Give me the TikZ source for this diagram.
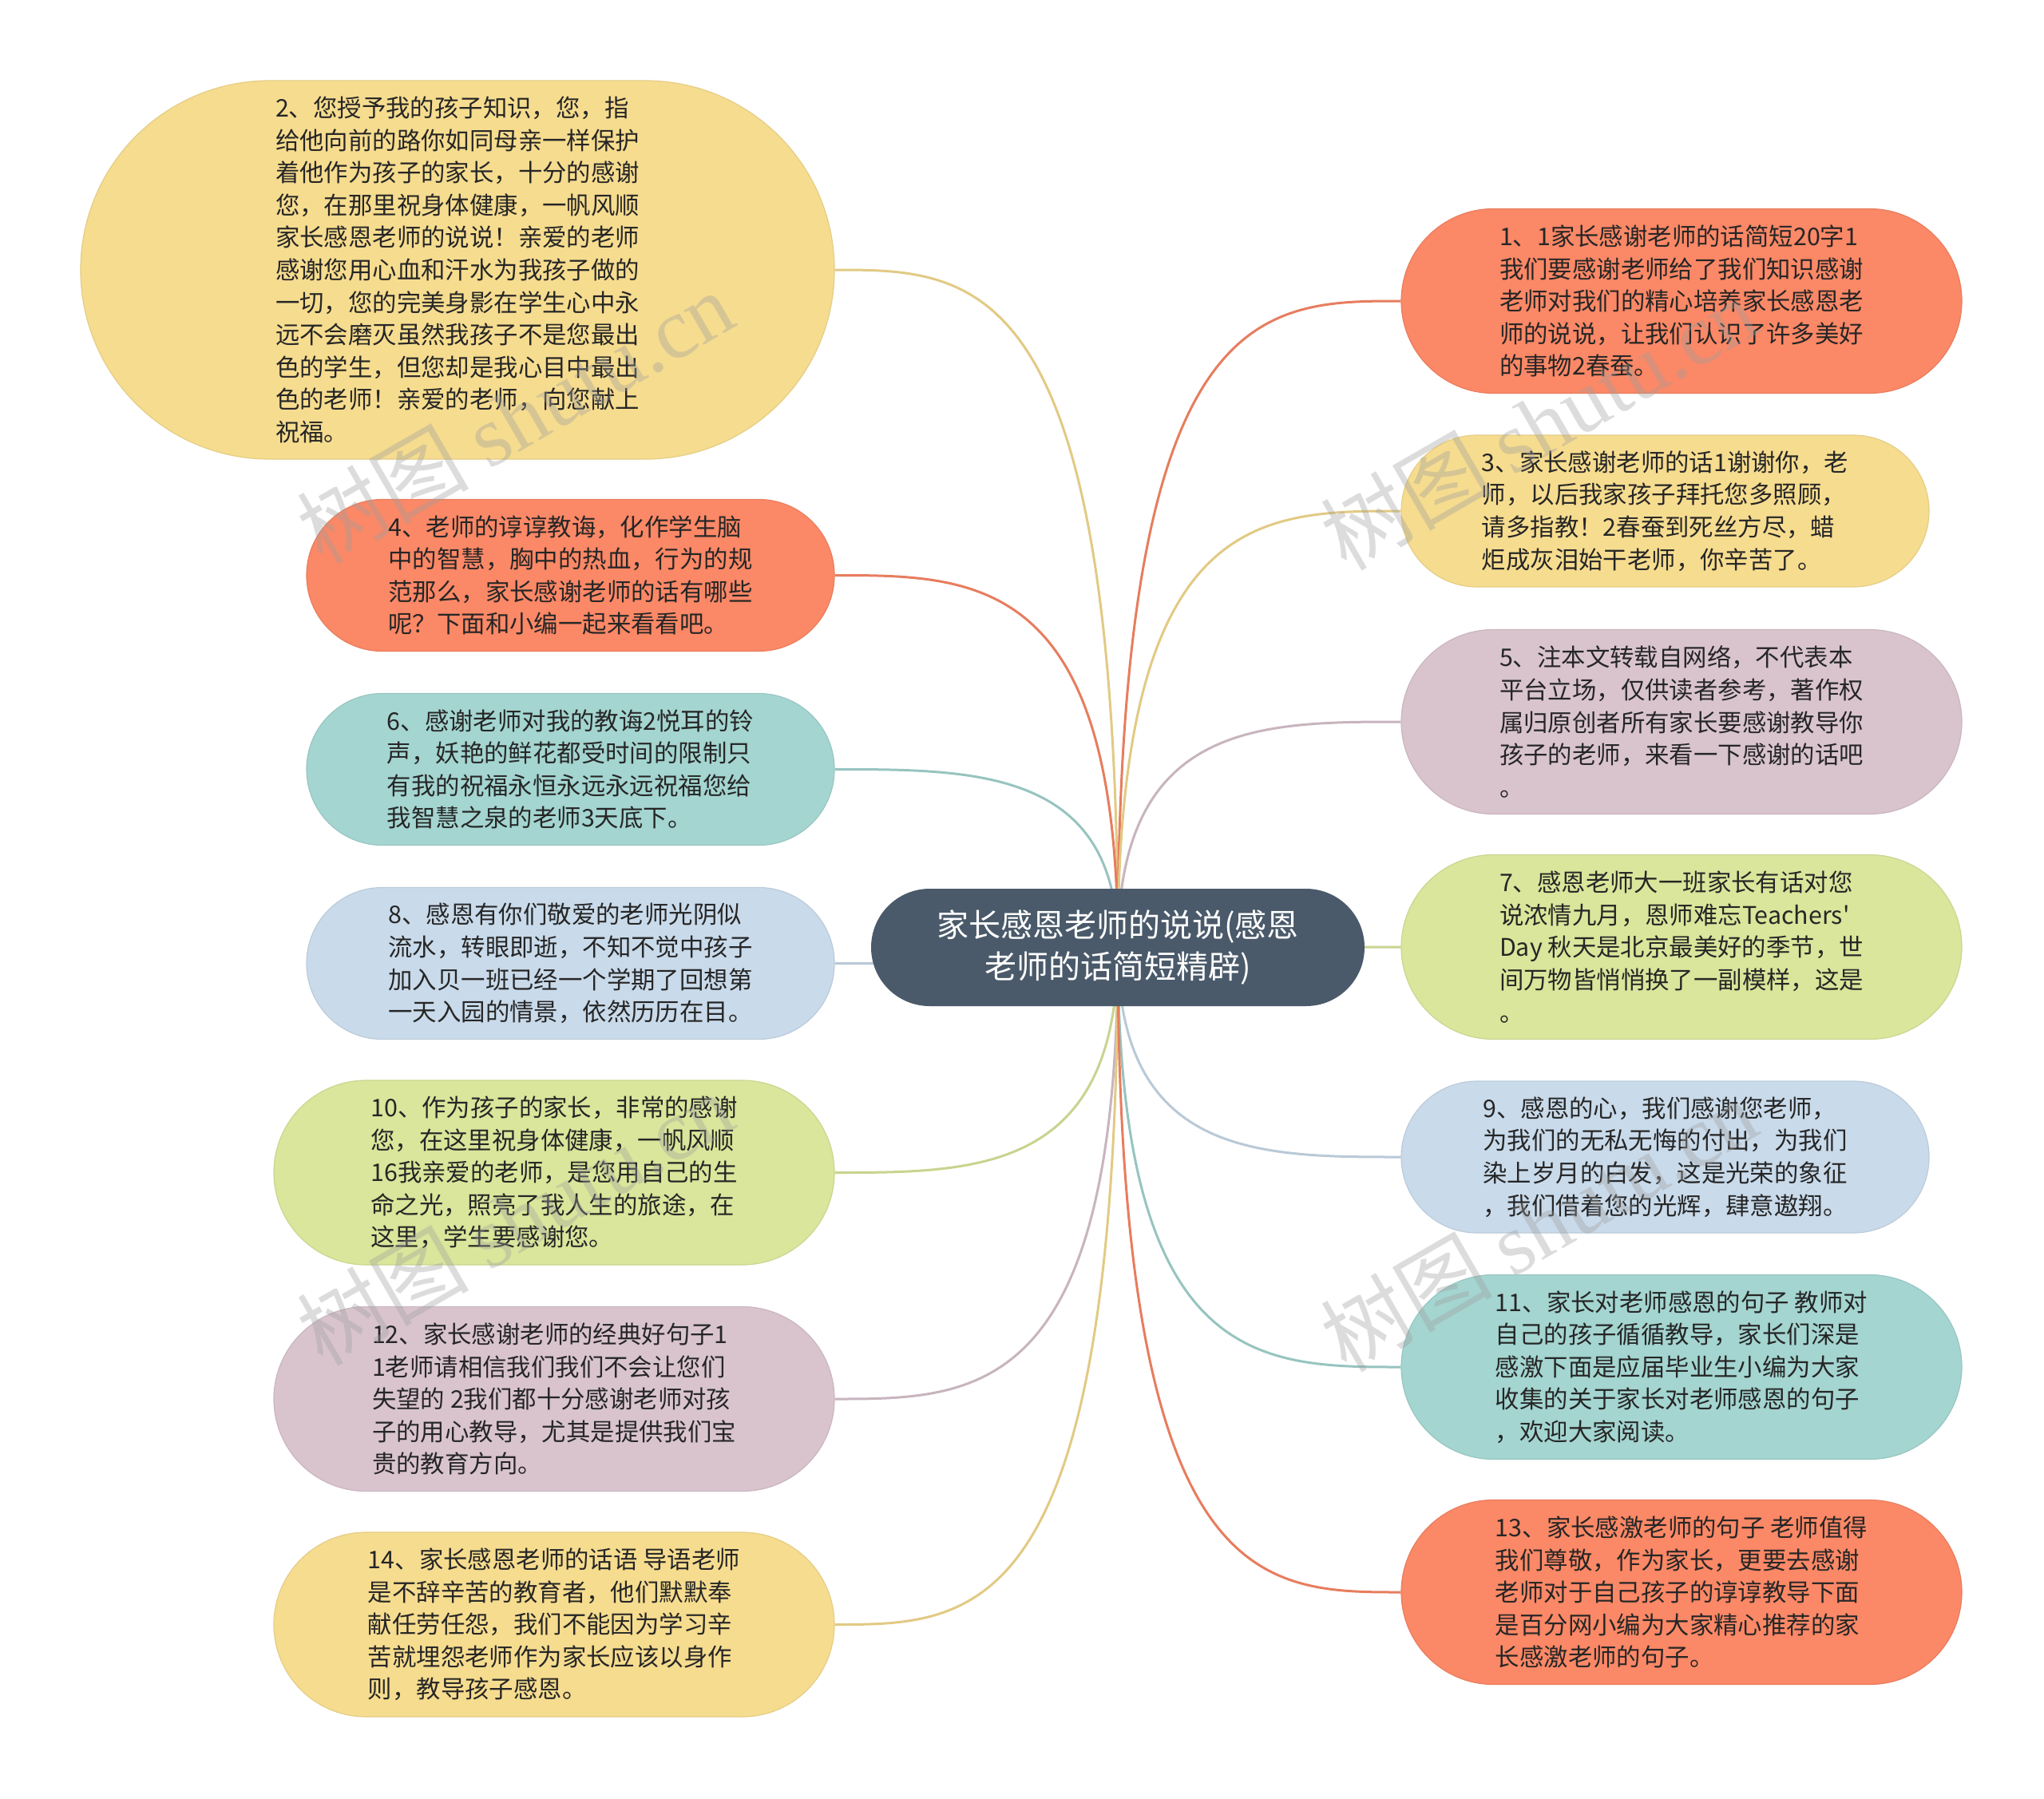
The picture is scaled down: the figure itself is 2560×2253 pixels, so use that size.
\documentclass[tikz,border=0pt]{standalone}
\usepackage{fontspec}
\newfontfamily\cjk{Noto Sans CJK SC}
\newfontfamily\wmserif{Liberation Serif}
\usetikzlibrary{calc}
\pgfdeclarelayer{back}
\pgfdeclarelayer{bg}
\pgfsetlayers{back,bg,main}
\definecolor{cYellow}{HTML}{F6DC8F}
\definecolor{cOrange}{HTML}{FB8866}
\definecolor{cTeal}{HTML}{A4D5D0}
\definecolor{cBlue}{HTML}{C9DAEA}
\definecolor{cGreen}{HTML}{D9E69B}
\definecolor{cMauve}{HTML}{D9C4CE}
\definecolor{cCenter}{HTML}{4A5A6A}
\definecolor{txt}{HTML}{262626}
\tikzset{
  leaf/.style={font=\cjk\fontsize{15.2}{20.3}\selectfont, text=txt, align=left, inner sep=0pt, shape=rectangle, line width=0.6pt},
  yel/.style={fill=cYellow, draw=cYellow!93!black},
  ora/.style={fill=cOrange, draw=cOrange!93!black},
  tea/.style={fill=cTeal, draw=cTeal!93!black},
  blu/.style={fill=cBlue, draw=cBlue!93!black},
  gre/.style={fill=cGreen, draw=cGreen!93!black},
  mau/.style={fill=cMauve, draw=cMauve!93!black},
  small/.style={minimum width=330.5pt, minimum height=95pt, rounded corners=47.4pt},
  big/.style={minimum width=351pt, minimum height=115.5pt, rounded corners=57.7pt},
  conn/.style={line width=1.5pt},
  wm/.style={font=\cjk\fontsize{54}{60}\selectfont, text=gray!75, text opacity=0.36, rotate=30, inner sep=0pt},
}
\newcommand{\curveto}[2]{\draw[conn, draw=#2] (c.center) .. controls (c.center |- #1) and ($(c.center |- #1)!0.5!(#1)$) .. (#1);}
\begin{document}
\begin{tikzpicture}[x=0.5pt, y=-0.5pt]
\useasboundingbox (0,0) rectangle (2560,2253);
\begin{pgfonlayer}{back}
\fill[white] (0,0) rectangle (2560,2253);
\end{pgfonlayer}

\coordinate (cc) at (1400,1186.5);
\node[minimum width=309pt, minimum height=73.5pt, inner sep=0pt] (c) at (cc) {};
\begin{scope}[every node/.style={leaf}]
\node[yel, minimum width=472pt, minimum height=237pt, rounded corners=118.4pt] (n2) at (573,338) {2、您授予我的孩子知识，您，指\\给他向前的路你如同母亲一样保护\\着他作为孩子的家长，十分的感谢\\您，在那里祝身体健康，一帆风顺\\家长感恩老师的说说！亲爱的老师\\感谢您用心血和汗水为我孩子做的\\一切，您的完美身影在学生心中永\\远不会磨灭虽然我孩子不是您最出\\色的学生，但您却是我心目中最出\\色的老师！亲爱的老师，向您献上\\祝福。};
\node[ora, small] (n4) at (714.5,720.5) {4、老师的谆谆教诲，化作学生脑\\中的智慧，胸中的热血，行为的规\\范那么，家长感谢老师的话有哪些\\呢？下面和小编一起来看看吧。};
\node[tea, small] (n6) at (714.5,963.5) {6、感谢老师对我的教诲2悦耳的铃\\声，妖艳的鲜花都受时间的限制只\\有我的祝福永恒永远永远祝福您给\\我智慧之泉的老师3天底下。};
\node[blu, small] (n8) at (714.5,1206.5) {8、感恩有你们敬爱的老师光阴似\\流水，转眼即逝，不知不觉中孩子\\加入贝一班已经一个学期了回想第\\一天入园的情景，依然历历在目。};
\node[gre, big] (n10) at (694,1468.5) {10、作为孩子的家长，非常的感谢\\您，在这里祝身体健康，一帆风顺\\16我亲爱的老师，是您用自己的生\\命之光，照亮了我人生的旅途，在\\这里，学生要感谢您。};
\node[mau, big] (n12) at (694,1752) {12、家长感谢老师的经典好句子1\\1老师请相信我们我们不会让您们\\失望的 2我们都十分感谢老师对孩\\子的用心教导，尤其是提供我们宝\\贵的教育方向。};
\node[yel, big] (n14) at (694,2034.5) {14、家长感恩老师的话语 导语老师\\是不辞辛苦的教育者，他们默默奉\\献任劳任怨，我们不能因为学习辛\\苦就埋怨老师作为家长应该以身作\\则，教导孩子感恩。};
\node[ora, big] (n1) at (2106,377) {1、1家长感谢老师的话简短20字1\\我们要感谢老师给了我们知识感谢\\老师对我们的精心培养家长感恩老\\师的说说，让我们认识了许多美好\\的事物2春蚕。};
\node[yel, small] (n3) at (2085.5,640) {3、家长感谢老师的话1谢谢你，老\\师，以后我家孩子拜托您多照顾，\\请多指教！2春蚕到死丝方尽，蜡\\炬成灰泪始干老师，你辛苦了。};
\node[mau, big] (n5) at (2106,904) {5、注本文转载自网络，不代表本\\平台立场，仅供读者参考，著作权\\属归原创者所有家长要感谢教导你\\孩子的老师，来看一下感谢的话吧\\。};
\node[gre, big] (n7) at (2106,1186) {7、感恩老师大一班家长有话对您\\说浓情九月，恩师难忘Teachers'\\Day 秋天是北京最美好的季节，世\\间万物皆悄悄换了一副模样，这是\\。};
\node[blu, small] (n9) at (2085.5,1449) {9、感恩的心，我们感谢您老师，\\为我们的无私无悔的付出，为我们\\染上岁月的白发，这是光荣的象征\\，我们借着您的光辉，肆意遨翔。};
\node[tea, big] (n11) at (2106,1712) {11、家长对老师感恩的句子 教师对\\自己的孩子循循教导，家长们深是\\感激下面是应届毕业生小编为大家\\收集的关于家长对老师感恩的句子\\，欢迎大家阅读。};
\node[ora, big] (n13) at (2106,1994) {13、家长感激老师的句子 老师值得\\我们尊敬，作为家长，更要去感谢\\老师对于自己孩子的谆谆教导下面\\是百分网小编为大家精心推荐的家\\长感激老师的句子。};
\end{scope}

\begin{pgfonlayer}{bg}
\curveto{n2.east}{cYellow!92!black}
\curveto{n4.east}{cOrange!92!black}
\curveto{n6.east}{cTeal!92!black}
\curveto{n8.east}{cBlue!92!black}
\curveto{n10.east}{cGreen!92!black}
\curveto{n12.east}{cMauve!92!black}
\curveto{n14.east}{cYellow!92!black}
\curveto{n1.west}{cOrange!92!black}
\curveto{n3.west}{cYellow!92!black}
\curveto{n5.west}{cMauve!92!black}
\curveto{n7.west}{cGreen!92!black}
\curveto{n9.west}{cBlue!92!black}
\curveto{n11.west}{cTeal!92!black}
\curveto{n13.west}{cOrange!92!black}
\end{pgfonlayer}

\node[fill=cCenter, minimum width=309pt, minimum height=73.5pt, rounded corners=36.7pt, inner sep=0pt, text=white, align=center, font=\cjk\fontsize{20}{26}\selectfont] (center) at (cc) {家长感恩老师的说说(感恩\\老师的话简短精辟)};

\node[wm] (w1) at (645,522) {树图 {\wmserif shutu.cn}};
\node[wm] (w2) at (1927,530) {树图 {\wmserif shutu.cn}};
\node[wm] (w3) at (645,1526) {树图 {\wmserif shutu.cn}};
\node[wm] (w4) at (1927,1534) {树图 {\wmserif shutu.cn}};
\end{tikzpicture}
\end{document}
